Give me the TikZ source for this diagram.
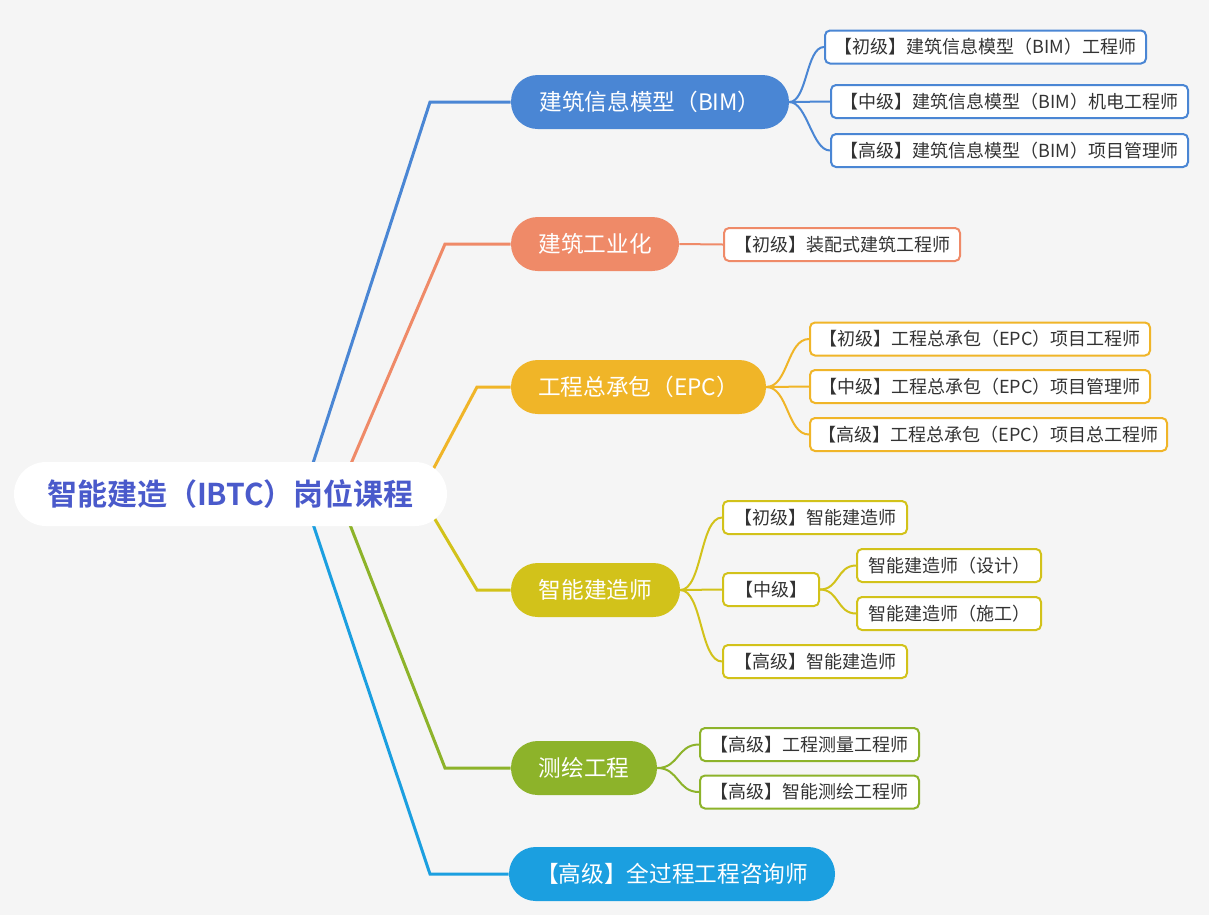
\documentclass[tikz,border=0pt]{standalone}
\usepackage{fontspec}
\setmainfont{Noto Sans CJK SC}[BoldFont={Noto Sans CJK SC Bold}]
\definecolor{bg}{HTML}{F5F5F5}
\definecolor{cbim}{HTML}{4A86D4}
\definecolor{cind}{HTML}{EF8A68}
\definecolor{cepc}{HTML}{F0B528}
\definecolor{csmart}{HTML}{D2C21A}
\definecolor{csurv}{HTML}{8DB32A}
\definecolor{cfull}{HTML}{1B9FE0}
\definecolor{croot}{HTML}{4A5ACB}
\definecolor{ctext}{HTML}{333333}
\begin{document}
\begin{tikzpicture}[x=0.75pt,y=-0.75pt,
  rootbox/.style={fill=white,rounded corners=24pt,minimum width=324.75pt,minimum height=48pt,inner sep=0pt,text=croot,font=\fontsize{22.5}{26}\selectfont\bfseries},
  branch/.style={fill=#1,rounded corners=20pt,minimum height=40.5pt,inner sep=0pt,text=white,font=\fontsize{17}{20}\selectfont},
  leaf/.style={draw=#1,line width=1.5pt,fill=white,rounded corners=3.75pt,minimum height=24.75pt,inner sep=0pt,text=ctext,font=\fontsize{13.5}{16}\selectfont},
  mainline/.style={draw=#1,line width=2.25pt},
  subline/.style={draw=#1,line width=1.5pt},
]
\useasboundingbox (0,0) rectangle (1209,915);
\fill[bg] (0,0) rectangle (1209,915);

% anchor points hidden behind root
\coordinate (s1) at (303,494);
\coordinate (s2) at (338,494);
\coordinate (s3) at (420,494);
\coordinate (e1) at (430,102);
\coordinate (e2) at (445,244);
\coordinate (e3) at (477,387);
\coordinate (e4) at (477,590);
\coordinate (e5) at (445,768);
\coordinate (e6) at (430,874);

% branch nodes
\node[branch=cbim,minimum width=208.5pt] (bim) at (650,102) {建筑信息模型（BIM）};
\node[branch=cind,minimum width=126pt] (ind) at (595,244) {建筑工业化};
\node[branch=cepc,minimum width=191.25pt] (epc) at (638.5,387) {工程总承包（EPC）};
\node[branch=csmart,minimum width=126.75pt] (smart) at (595.5,590) {智能建造师};
\node[branch=csurv,minimum width=109.5pt] (surv) at (584,768) {测绘工程};
\node[branch=cfull,minimum width=244.5pt] (full) at (672,874) {【高级】全过程工程咨询师};

% main connectors
\draw[mainline=cbim] (s1) -- (e1) -- (bim.west);
\draw[mainline=cind] (s2) -- (e2) -- (ind.west);
\draw[mainline=cepc] (s3) -- (e3) -- (epc.west);
\draw[mainline=csmart] (s3) -- (e4) -- (smart.west);
\draw[mainline=csurv] (s2) -- (e5) -- (surv.west);
\draw[mainline=cfull] (s1) -- (e6) -- (full.west);

% root
\node[rootbox] (root) at (230.5,494) {智能建造（IBTC）岗位课程};

% leaves BIM
\node[leaf=cbim,minimum width=240.75pt] (b1) at (985.5,47) {【初级】建筑信息模型（BIM）工程师};
\node[leaf=cbim,minimum width=267.75pt] (b2) at (1009.5,101.5) {【中级】建筑信息模型（BIM）机电工程师};
\node[leaf=cbim,minimum width=267.75pt] (b3) at (1009.5,150.5) {【高级】建筑信息模型（BIM）项目管理师};
\foreach \n in {b1,b2,b3}
  \draw[subline=cbim] (bim.east) .. controls +(18,0) and +(-18,0) .. (\n.west);

% leaf industrialisation
\node[leaf=cind,minimum width=177pt] (i1) at (842,244.5) {【初级】装配式建筑工程师};
\draw[subline=cind] (ind.east) -- (i1.west);

% leaves EPC
\node[leaf=cepc,minimum width=255pt] (p1) at (980,339) {【初级】工程总承包（EPC）项目工程师};
\node[leaf=cepc,minimum width=255pt] (p2) at (980,386.5) {【中级】工程总承包（EPC）项目管理师};
\node[leaf=cepc,minimum width=267.75pt] (p3) at (988.5,434.5) {【高级】工程总承包（EPC）项目总工程师};
\foreach \n in {p1,p2,p3}
  \draw[subline=cepc] (epc.east) .. controls +(22,0) and +(-22,0) .. (\n.west);

% leaves smart builder
\node[leaf=csmart,minimum width=138pt] (m1) at (815,517.5) {【初级】智能建造师};
\node[leaf=csmart,minimum width=72pt] (m2) at (771,589.5) {【中级】};
\node[leaf=csmart,minimum width=138pt] (m3) at (815,661.5) {【高级】智能建造师};
\foreach \n in {m1,m2,m3}
  \draw[subline=csmart] (smart.east) .. controls +(22,0) and +(-22,0) .. (\n.west);
\node[leaf=csmart,minimum width=138pt] (m21) at (949,565.5) {智能建造师（设计）};
\node[leaf=csmart,minimum width=138pt] (m22) at (949,613.5) {智能建造师（施工）};
\foreach \n in {m21,m22}
  \draw[subline=csmart] (m2.east) .. controls +(19,0) and +(-19,0) .. (\n.west);

% leaves surveying
\node[leaf=csurv,minimum width=164.25pt] (v1) at (809.5,744.5) {【高级】工程测量工程师};
\node[leaf=csurv,minimum width=164.25pt] (v2) at (809.5,792) {【高级】智能测绘工程师};
\foreach \n in {v1,v2}
  \draw[subline=csurv] (surv.east) .. controls +(22,0) and +(-22,0) .. (\n.west);
\end{tikzpicture}
\end{document}
